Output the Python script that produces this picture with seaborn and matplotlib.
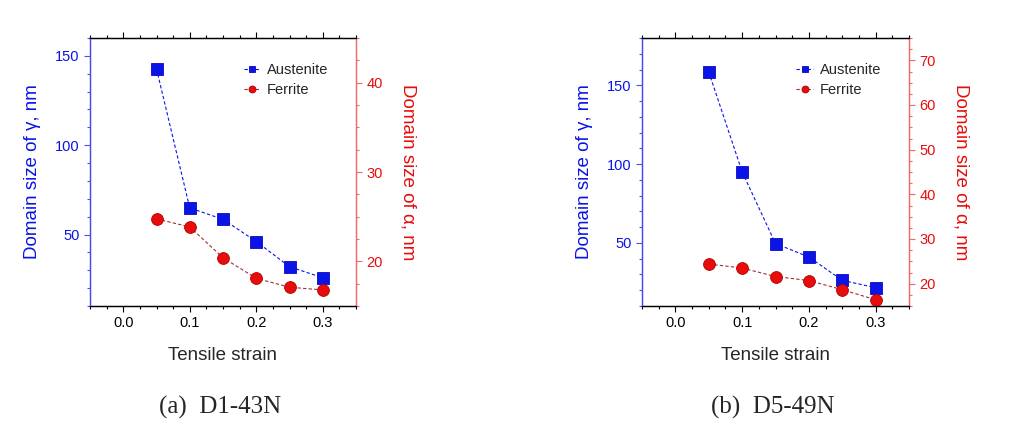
import numpy as np
import pandas as pd
import matplotlib
matplotlib.use("Agg")
import matplotlib.pyplot as plt
from matplotlib.ticker import MultipleLocator
import seaborn as sns

# data
strain = [0.05, 0.10, 0.15, 0.20, 0.25, 0.30]
aus_a = [142.7, 64.9, 58.5, 46.1, 32.0, 25.8]     # D1-43N, gamma (left axis)
fer_a = [24.75, 23.85, 20.4, 18.1, 17.1, 16.8]     # D1-43N, alpha (right axis)
aus_b = [158.5, 95.1, 49.6, 41.1, 26.3, 21.6]      # D5-49N
fer_b = [24.4, 23.5, 21.6, 20.7, 18.65, 16.4]
captions = ["(a)  D1-43N", "(b)  D5-49N"]

sns.set_style("ticks")
plt.rcParams["font.family"] = ["Liberation Sans", "DejaVu Sans"]

BLUE = "#0a14e6"
RED = "#e80c0c"

fig = plt.figure(figsize=(10.32, 4.34), dpi=100)


def panel(rect, aus, fer, ylim_l, ylim_r, minor_r, caption):
    ax = fig.add_axes(rect)
    ax2 = ax.twinx()
    df = pd.DataFrame({"strain": strain, "aus": aus, "fer": fer})
    sns.lineplot(data=df, x="strain", y="aus", ax=ax, color=BLUE, lw=0.8,
                 linestyle=(0, (3, 2)), marker="s", markersize=8,
                 markeredgecolor="#0a0ac0", markeredgewidth=0.6, legend=False)
    sns.lineplot(data=df, x="strain", y="fer", ax=ax2, color="#a03030", lw=0.8,
                 linestyle=(0, (3, 2)), marker="o", markersize=8.5,
                 markerfacecolor=RED, markeredgecolor="#b00000",
                 markeredgewidth=0.6, legend=False)

    ax.set_xlim(-0.05, 0.35)
    ax.set_ylim(*ylim_l)
    ax2.set_ylim(*ylim_r)
    ax.xaxis.set_major_locator(MultipleLocator(0.1))
    ax.xaxis.set_minor_locator(MultipleLocator(0.025))
    ax.yaxis.set_major_locator(MultipleLocator(50))
    ax.yaxis.set_minor_locator(MultipleLocator(10))
    ax2.yaxis.set_major_locator(MultipleLocator(10))
    ax2.yaxis.set_minor_locator(MultipleLocator(minor_r))
    ax.xaxis.set_major_formatter(plt.FormatStrFormatter("%.1f"))

    ax.tick_params(axis="x", which="both", top=True, direction="out",
                   labelsize=10.5, colors="black")
    ax.tick_params(axis="x", which="major", length=4, width=0.8)
    ax.tick_params(axis="x", which="minor", length=2.5, width=0.8)
    ax.tick_params(axis="y", which="major", length=4, width=0.8,
                   colors="#5050e0", labelcolor=BLUE, labelsize=10.5)
    ax.tick_params(axis="y", which="minor", length=2.5, width=0.8,
                   colors="#5050e0")
    ax2.tick_params(axis="y", which="major", length=4, width=0.8,
                    colors="#f06a6a", labelcolor=RED, labelsize=10.5)
    ax2.tick_params(axis="y", which="minor", length=2.5, width=0.8,
                    colors="#f06a6a")

    for a in (ax, ax2):
        for s in a.spines.values():
            s.set_visible(True)
            s.set_linewidth(0.9)
        a.spines["top"].set_color("black")
        a.spines["bottom"].set_color("black")
        a.spines["left"].set_color("#4a4ae8")
        a.spines["right"].set_color("#f06a6a")

    ax.set_xlabel("Tensile strain", fontsize=13.5, labelpad=12)
    ax.set_ylabel("Domain size of γ, nm", fontsize=13.5, color=BLUE, labelpad=10)
    ax2.set_ylabel("Domain size of α, nm", fontsize=13.5, color=RED,
                   rotation=270, labelpad=24)

    h = [ax.lines[0], ax2.lines[0]]
    leg = ax.legend(h, ["Austenite", "Ferrite"], loc="upper right",
                    bbox_to_anchor=(0.945, 0.955), frameon=False, fontsize=10.5,
                    handlelength=1.1, handletextpad=0.5, labelspacing=0.38)
    for lh in leg.legend_handles:
        lh.set_markersize(5)
    x0 = rect[0] + rect[2] / 2
    fig.text(x0 - 0.003, 1 - 407 / 434, caption, ha="center", va="center",
             fontsize=18, family=["Liberation Serif", "DejaVu Serif"])


panel([90 / 1032, 1 - 306 / 434, 266 / 1032, 268 / 434],
      aus_a, fer_a, (10, 160), (15, 45), 2.5, captions[0])
panel([642 / 1032, 1 - 306 / 434, 267 / 1032, 268 / 434],
      aus_b, fer_b, (10, 180), (15, 75), 2.5, captions[1])

fig.savefig("out.png", dpi=100, facecolor="white")
